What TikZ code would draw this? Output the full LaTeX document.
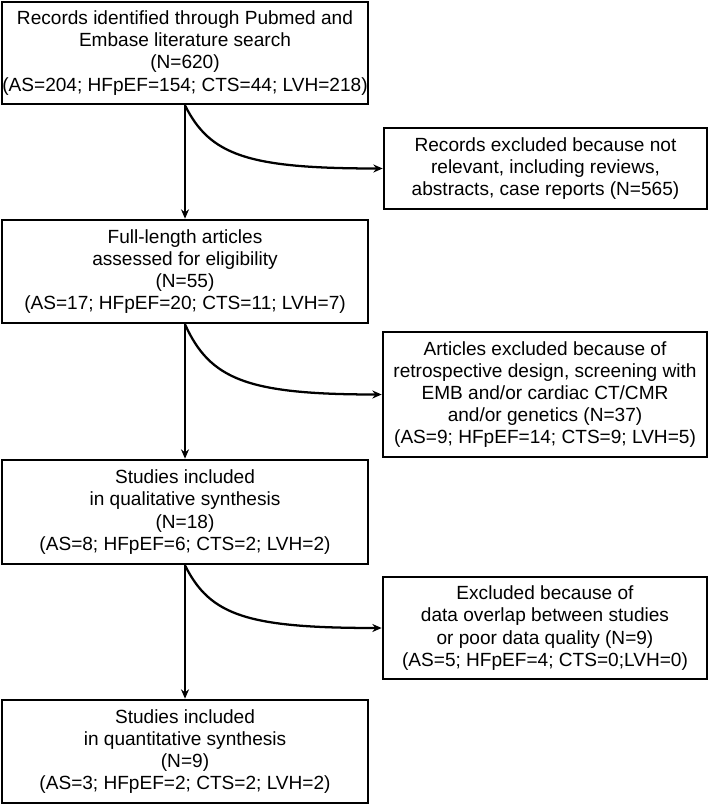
\documentclass[tikz,border=0pt]{standalone}
\usepackage{fontspec}
\setmainfont{Liberation Sans}
\usetikzlibrary{positioning}
\usetikzlibrary{calc}
\usetikzlibrary{arrows.meta}
\tikzset{bx/.style={draw,line width=2pt,align=center,inner sep=0pt,font=\fontsize{14.3}{16.6}\selectfont}}
\tikzset{lbox/.style={bx,minimum width=274.5pt}}
\tikzset{rbox/.style={bx,minimum width=243pt}}
\tikzset{ar/.style={line width=1.7pt,-{Stealth[length=7pt,width=6pt]}}}

\begin{document}
\begin{tikzpicture}[x=0.75pt,y=-0.75pt]
\useasboundingbox (0,0) rectangle (709,805);

% main column
\node[lbox,minimum height=76.5pt] (rec) at (185,53) {Records identified through Pubmed and\\ Embase literature search\\ (N=620)\\ (AS=204; HFpEF=154; CTS=44; LVH=218)};
\node[lbox,minimum height=77.25pt] (full) at (185,271.5) {Full-length articles\\ assessed for eligibility\\ (N=55)\\ (AS=17; HFpEF=20; CTS=11; LVH=7)};
\node[lbox,minimum height=78pt] (qual) at (185,512) {Studies included\\ in qualitative synthesis\\ (N=18)\\ (AS=8; HFpEF=6; CTS=2; LVH=2)};
\node[lbox,minimum height=77.25pt] (quan) at (185,751.5) {Studies included\\ in quantitative synthesis\\ (N=9)\\ (AS=3; HFpEF=2; CTS=2; LVH=2)};

% exclusions
\node[rbox,minimum width=242.25pt,minimum height=60.75pt] (ex1) at (545.5,168.5) {Records excluded because not\\ relevant, including reviews,\\ abstracts, case reports (N=565)};
\node[rbox,minimum height=93.75pt] (ex2) at (545,394.5) {Articles excluded because of\\ retrospective design, screening with\\ EMB and/or cardiac CT/CMR\\ and/or genetics (N=37)\\ (AS=9; HFpEF=14; CTS=9; LVH=5)};
\node[rbox,minimum height=76.5pt] (ex3) at (545,628) {Excluded because of\\ data overlap between studies\\ or poor data quality (N=9)\\ (AS=5; HFpEF=4; CTS=0;LVH=0)};

\draw[ar] (rec.south) -- (full.north);
\draw[ar] (full.south) -- (qual.north);
\draw[ar] (qual.south) -- (quan.north);

\draw[ar] (rec.south) .. controls ($(rec.south)+(25,50)$) and ($(ex1.west)+(-135,0)$) .. (ex1.west);
\draw[ar] (full.south) .. controls ($(full.south)+(25,55)$) and ($(ex2.west)+(-135,0)$) .. (ex2.west);
\draw[ar] (qual.south) .. controls ($(qual.south)+(25,50)$) and ($(ex3.west)+(-135,0)$) .. (ex3.west);
\end{tikzpicture}
\end{document}
